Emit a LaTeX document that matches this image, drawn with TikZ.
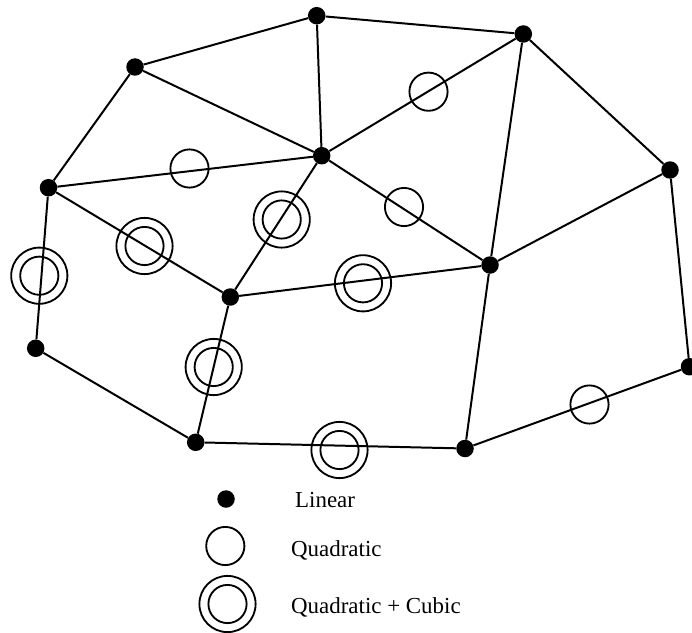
\documentclass[tikz,border=0pt]{standalone}
\usepackage{fontspec}
\setmainfont{Liberation Serif}
\newcommand{\px}{0.0352778cm}
\tikzset{x=\px,y=-\px,
 vert/.style={circle,fill=black,draw=none,minimum size=17.5*\px,inner sep=0pt},
 ring/.style={circle,draw=black,line width=1.85pt,fill=none,minimum size=38.2*\px,inner sep=0pt},
 outerring/.style={ring,minimum size=56.2*\px},
 edge/.style={line width=2pt,black},
 lab/.style={anchor=base west,inner sep=0pt,font=\fontsize{23}{26}\selectfont}}
\begin{document}
\begin{tikzpicture}
\useasboundingbox (0,0) rectangle (692,633);
\foreach \n/\x/\y in {a/316.7/15.7,b/523.3/34,c/135/67,d/321.7/155.7,e/670/170,f/48.5/187.7,g/490/265,h/230.3/297,i/35.7/348.3,j/689.5/366.7,k/195.7/442.3,l/465/448.5}
 \node[vert] (\n) at (\x,\y) {};
\foreach \s/\t in {a/b,a/c,a/d,b/d,b/e,b/g,c/d,c/f,d/f,d/g,d/h,e/g,e/j,f/h,f/i,g/h,g/l,h/k,i/k,j/l,k/l}
 \draw[edge] (\s) -- (\t);
\foreach \n/\x/\y in {q1/428.5/91.7,q2/189.5/168.5,q3/404/207,q4/589.5/404.5}
 \node[ring] (\n) at (\x,\y) {};
\foreach \n/\x/\y in {c1/281.7/219.5,c2/144.5/246,c3/39.3/275.7,c4/363/283.3,c5/213.7/367,c6/339.5/450}
 {\node[outerring] (\n) at (\x,\y) {};
  \node[ring] (\n i) at (\x,\y) {};}
\node[vert] (lv) at (226,499) {};
\node[ring] (lq) at (225.3,546) {};
\node[outerring] (lc) at (227.5,604) {};
\node[ring] (lci) at (227.5,604) {};
\node[lab] (t1) at (295,507) {Linear};
\node[lab] (t2) at (291,556) {Quadratic};
\node[lab] (t3) at (291,613) {Quadratic + Cubic};
\end{tikzpicture}
\end{document}
